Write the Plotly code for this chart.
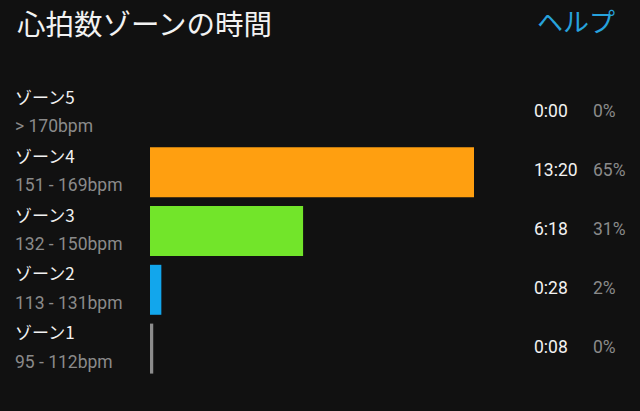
import plotly.graph_objects as go

zones = ["ゾーン1", "ゾーン2", "ゾーン3", "ゾーン4", "ゾーン5"]
bpm_ranges = ["95 - 112bpm", "113 - 131bpm", "132 - 150bpm", "151 - 169bpm", "> 170bpm"]
seconds = [8, 28, 378, 800, 0]
percents = [0, 2, 31, 65, 0]
colors = ["#8c8c8c", "#12a6ec", "#72e52a", "#ff9f10", "#ff4d4d"]

def fmt(s):
    return f"{s // 60}:{s % 60:02d}"

BG = "#111111"
WHITE = "#f2f2f2"
GREY = "#8a8a8a"
JP = "Noto Sans CJK JP"
NUM = "Roboto, Noto Sans CJK JP"

fig = go.Figure()
fig.add_trace(go.Bar(
    y=zones, x=seconds, orientation="h",
    marker=dict(color=colors, line=dict(color="#000000", width=0)),
    width=0.85, hoverinfo="skip",
))

ann = []
for z, b, s, p in zip(zones, bpm_ranges, seconds, percents):
    ann.append(dict(x=13, xref="paper", xanchor="left", y=z, yref="y", yshift=17,
                    text=z, showarrow=False, font=dict(family=JP, size=17, color=WHITE)))
    ann.append(dict(x=13, xref="paper", xanchor="left", y=z, yref="y", yshift=-13,
                    text=b, showarrow=False, font=dict(family=NUM, size=17.5, color=GREY)))
    ann.append(dict(x=532, xref="paper", xanchor="left", y=z, yref="y", yshift=2,
                    text=fmt(s), showarrow=False, font=dict(family=NUM, size=17.5, color=WHITE)))
    ann.append(dict(x=591, xref="paper", xanchor="left", y=z, yref="y", yshift=2,
                    text=f"{p}%", showarrow=False, font=dict(family=NUM, size=17.5, color=GREY)))

W, H = 640, 411
ML, MR, MT, MB = 150, 0, 84, 33
pw = W - ML - MR
for a in ann:
    a["x"] = (a["x"] - ML) / pw

ann.append(dict(x=(15 - ML) / pw, xref="paper", xanchor="left", y=22, yref="paper",
                text="心拍数ゾーンの時間", showarrow=False, yanchor="middle",
                font=dict(family=JP, size=28.5, color=WHITE)))
ann.append(dict(x=(535 - ML) / pw, xref="paper", xanchor="left", y=20, yref="paper",
                text="ヘルプ", showarrow=False, yanchor="middle",
                font=dict(family=JP, size=26, color="#27a2dc")))
ph = H - MT - MB
for a in ann[-2:]:
    a["y"] = 1 + (MT - a["y"]) / ph

fig.update_layout(
    width=W, height=H,
    margin=dict(l=ML, r=MR, t=MT, b=MB, pad=0),
    paper_bgcolor=BG, plot_bgcolor=BG,
    showlegend=False,
    xaxis=dict(range=[0, 800 * pw / 324], visible=False, fixedrange=True),
    yaxis=dict(categoryorder="array", categoryarray=zones, range=[-0.5, 4.5],
               visible=False, fixedrange=True),
    annotations=ann,
)
fig.write_html("out.html", config={"displayModeBar": False},
               post_script="document.body.style.margin='0';document.body.style.background='#111111';")
